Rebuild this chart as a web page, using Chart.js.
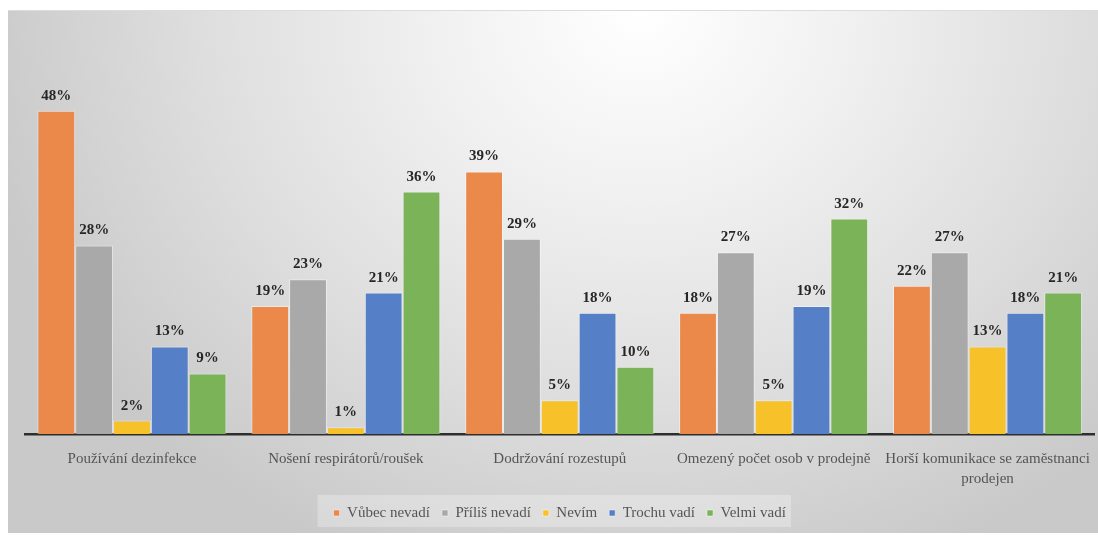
<!DOCTYPE html>
<html lang="cs">
<head>
<meta charset="utf-8">
<title>Vnímání hygienických opatření</title>
<script src="https://cdn.jsdelivr.net/npm/chart.js@4/dist/chart.umd.min.js"></script>
<style>
  html, body { margin: 0; padding: 0; background: #ffffff; }
  body { width: 1098px; height: 535px; position: relative; overflow: hidden; }
  .frame {
    position: absolute; left: 8px; top: 10px; width: 1090px; height: 523px;
    background: radial-gradient(ellipse 62% 115% at 58% 0%, #ffffff 0%, #f1f1f1 30%, #dedede 65%, #c9c9c9 100%);
    border-top: 1px solid #dcdcdc;
    box-sizing: border-box;
  }
  .wrap { position: absolute; left: 0; top: 0; width: 1098px; height: 535px; }
</style>
</head>
<body>
<div class="frame"></div>
<div class="wrap"><canvas id="chart" width="1098" height="535"></canvas></div>
<script>
// Categories (measures) and answer groups
const categories = [
  'Používání dezinfekce',
  'Nošení respirátorů/roušek',
  'Dodržování rozestupů',
  'Omezený počet osob v prodejně',
  ['Horší komunikace se zaměstnanci', 'prodejen']
];
const seriesNames = ['Vůbec nevadí', 'Příliš nevadí', 'Nevím', 'Trochu vadí', 'Velmi vadí'];

// Share of respondents (%)
const vubecNevadi  = [48, 19, 39, 18, 22];
const prilisNevadi = [28, 23, 29, 27, 27];
const nevim        = [2, 1, 5, 5, 13];
const trochuVadi   = [13, 21, 18, 19, 18];
const velmiVadi    = [9, 36, 10, 32, 21];

const seriesValues = [vubecNevadi, prilisNevadi, nevim, trochuVadi, velmiVadi];
const seriesColors = ['#EA894A', '#A9A9A9', '#F7C12A', '#5580C8', '#7BB359'];

const serif = "'Liberation Serif', 'DejaVu Serif', serif";

// Percentage labels above every bar
const valueLabels = {
  id: 'valueLabels',
  afterDatasetsDraw(chart) {
    const ctx = chart.ctx;
    ctx.save();
    ctx.font = 'bold 15px ' + serif;
    ctx.fillStyle = '#262626';
    ctx.textAlign = 'center';
    ctx.textBaseline = 'alphabetic';
    chart.data.datasets.forEach((ds, di) => {
      const meta = chart.getDatasetMeta(di);
      meta.data.forEach((bar, i) => {
        ctx.fillText(ds.data[i] + '%', bar.x, bar.y - 11);
      });
    });
    ctx.restore();
  }
};

// Soft light panel behind the legend
const legendPanel = {
  id: 'legendPanel',
  beforeDraw(chart) {
    const lg = chart.legend;
    if (!lg || !lg.legendHitBoxes || !lg.legendHitBoxes.length) return;
    const boxes = lg.legendHitBoxes;
    const first = boxes[0], last = boxes[boxes.length - 1];
    const cy = first.top + first.height / 2;
    const ctx = chart.ctx;
    ctx.save();
    ctx.fillStyle = 'rgba(255,255,255,0.28)';
    ctx.fillRect(first.left - 16, cy - 18, (last.left + last.width + 5) - (first.left - 16), 32);
    ctx.restore();
  }
};

new Chart(document.getElementById('chart'), {
  type: 'bar',
  data: {
    labels: categories,
    datasets: seriesNames.map((name, k) => ({
      label: name,
      data: seriesValues[k],
      backgroundColor: seriesColors[k],
      borderColor: 'rgba(255,255,255,0.45)',
      borderWidth: 1,
      categoryPercentage: 0.884,
      barPercentage: 1.0
    }))
  },
  options: {
    responsive: false,
    animation: false,
    devicePixelRatio: 1,
    layout: { padding: { top: 30, left: 25, right: 3.5, bottom: 4.5 } },
    scales: {
      x: {
        grid: { display: false, drawTicks: false },
        border: { display: true, color: '#2e2e2e', width: 2.5 },
        ticks: {
          color: '#555555',
          font: { family: serif, size: 15, lineHeight: 1.27 },
          padding: 16,
          maxRotation: 0,
          autoSkip: false
        },
        afterFit(scale) {
          scale.height = 59.5;
          scale.paddingLeft = 0;
          scale.paddingRight = 0;
        }
      },
      y: {
        display: false,
        min: 0,
        max: 60
      }
    },
    plugins: {
      legend: {
        position: 'bottom',
        labels: {
          usePointStyle: true,
          pointStyle: 'rect',
          pointStyleWidth: 6,
          boxWidth: 6,
          boxHeight: 6,
          padding: 12,
          color: '#555555',
          font: { family: serif, size: 15 }
        }
      },
      tooltip: { enabled: false }
    }
  },
  plugins: [legendPanel, valueLabels]
});
</script>
</body>
</html>
